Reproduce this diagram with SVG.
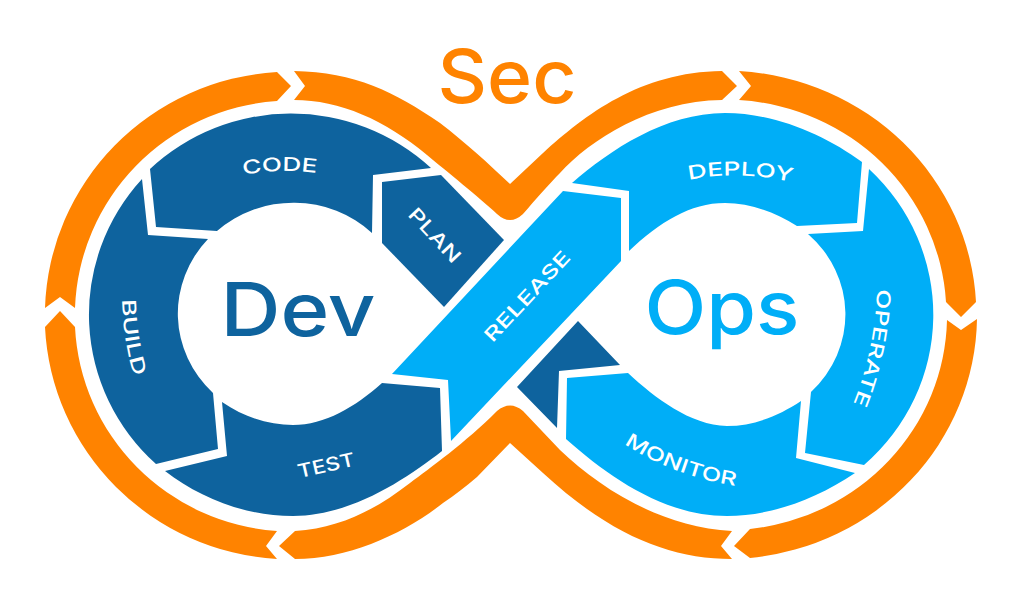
<svg xmlns="http://www.w3.org/2000/svg" width="1024" height="612" viewBox="0 0 1024 612">
<style>
.o{fill:#FF8300}.d{fill:#0E639E}.l{fill:#00AEF7}
.big{font-family:Inter,"Open Sans",sans-serif;font-weight:500;font-size:74px}
.s{font-family:Inter,"Open Sans",sans-serif;font-weight:500;font-size:19px;fill:#fff}
</style>
<defs>
<path id="pCode" d="M243 175Q280 168 317 173"/>
<path id="pDeploy" d="M689 180Q738 170 792 182"/>
<path id="pBuild" d="M122 299Q123 340 134 377"/>
<path id="pOperate" d="M877 289Q875 350 853 404"/>
<path id="pMonitor" d="M623 443Q672 476 737 486"/>
</defs>
<rect width="1024" height="612" fill="#fff"/>
<g id="connectors">
<path class="o" d="M45 308A247 244 0 0 1 277 72L291 86 277 101A217 215 0 0 0 75 308L60 297Z"/>
<path class="o" d="M294 71C355 72 395 92 440 123C465 142 490 165 510 184L543 153C585 115 640 72 722 71L737 86 722 100C650 101 590 140 560 173C550 183 535 200 523 214Q510 226 497 214C480 198 445 170 427 155C385 120 340 100 294 100L305 86Z"/>
<path class="o" d="M739 71A252 244 0 0 1 976 302L961 317 946 302A221 215 0 0 0 739 100L751 86Z"/>
<path class="o" d="M947 320L961 330 977 319A252 244 0 0 1 750 558L734 546 750 529A221 215 0 0 0 947 320Z"/>
<path class="o" d="M732 531L721 546 732 559C670 559 610 535 543 473L510 443 477 477C465 487 455 495 443 503C405 533 350 559 295 559L279 546 295 531C340 528 375 510 410 483C430 468 465 443 497 411Q510 400 523 411L560 450C600 488 660 527 732 531Z"/>
<path class="o" d="M277 531L266 546 277 559A247 244 0 0 1 45 327L60 311 75 327A217 215 0 0 0 277 531Z"/>
</g>
<g id="code"><path class="d" d="M150 169A205 202 0 0 1 431 168L373 175 372 233A114 110 0 0 0 217 231L156 227Z"/>
<text class="s" text-anchor="middle"><textPath href="#pCode" startOffset="50%" textLength="74" lengthAdjust="spacingAndGlyphs">CODE</textPath></text></g>
<g id="plan"><path class="d" d="M382 182L441 175 504 240 444 307 382 243Z"/>
<text class="s" x="435" y="242" text-anchor="middle" textLength="67" lengthAdjust="spacingAndGlyphs" transform="rotate(47 435 235)">PLAN</text></g>
<g id="build"><path class="d" d="M142 179L148 235 208 239A114 110 0 0 0 213 393L218 449 156 464A205 202 0 0 1 142 179Z"/>
<text class="s" text-anchor="middle"><textPath href="#pBuild" startOffset="50%" textLength="78" lengthAdjust="spacingAndGlyphs">BUILD</textPath></text></g>
<g id="test"><path class="d" d="M165 471L227 456 222 402C245 418 270 425 293 425C325 425 355 407 382 383L440 388 442 451C405 480 350 516 293 516C245 516 200 498 165 471Z"/>
<text class="s" x="326" y="472" text-anchor="middle" textLength="58" lengthAdjust="spacingAndGlyphs" transform="rotate(-13 326 465)">TEST</text></g>
<g id="dark-corner"><path class="d" d="M578 321L620 365 559 371 557 428 517 387Z"/></g>
<g id="release"><path class="l" d="M392 374L448 380 451 441 621 261 621 198 563 191Z"/>
<text class="s" x="527" y="303" text-anchor="middle" textLength="116" lengthAdjust="spacingAndGlyphs" transform="rotate(-47 527 296)">RELEASE</text></g>
<g id="deploy"><path class="l" d="M572 183C610 150 665 113 725 113C775 113 825 135 862 162L857 223 797 226C775 212 750 203 725 203C690 203 660 222 629 251L629 191Z"/>
<text class="s" text-anchor="middle"><textPath href="#pDeploy" startOffset="50%" textLength="104" lengthAdjust="spacingAndGlyphs">DEPLOY</textPath></text></g>
<g id="operate"><path class="l" d="M869 169A209 202 0 0 1 864 465L805 453 811 392A118 110 0 0 0 808 234L863 231Z"/>
<text class="s" text-anchor="middle"><textPath href="#pOperate" startOffset="50%" textLength="118" lengthAdjust="spacingAndGlyphs">OPERATE</textPath></text></g>
<g id="monitor"><path class="l" d="M567 378L628 373C655 398 690 425 727 426C755 426 780 415 801 401L796 458 855 473C815 500 770 516 727 516C665 516 610 478 566 439Z"/>
<text class="s" text-anchor="middle"><textPath href="#pMonitor" startOffset="50%" textLength="120" lengthAdjust="spacingAndGlyphs">MONITOR</textPath></text></g>
<text id="sec" class="big o" x="507" y="103" text-anchor="middle" textLength="139" lengthAdjust="spacingAndGlyphs">Sec</text>
<text id="dev" class="big d" x="298" y="336" text-anchor="middle" textLength="155" lengthAdjust="spacingAndGlyphs">Dev</text>
<text id="ops" class="big l" x="722" y="334" text-anchor="middle" textLength="155" lengthAdjust="spacingAndGlyphs">Ops</text>
</svg>
